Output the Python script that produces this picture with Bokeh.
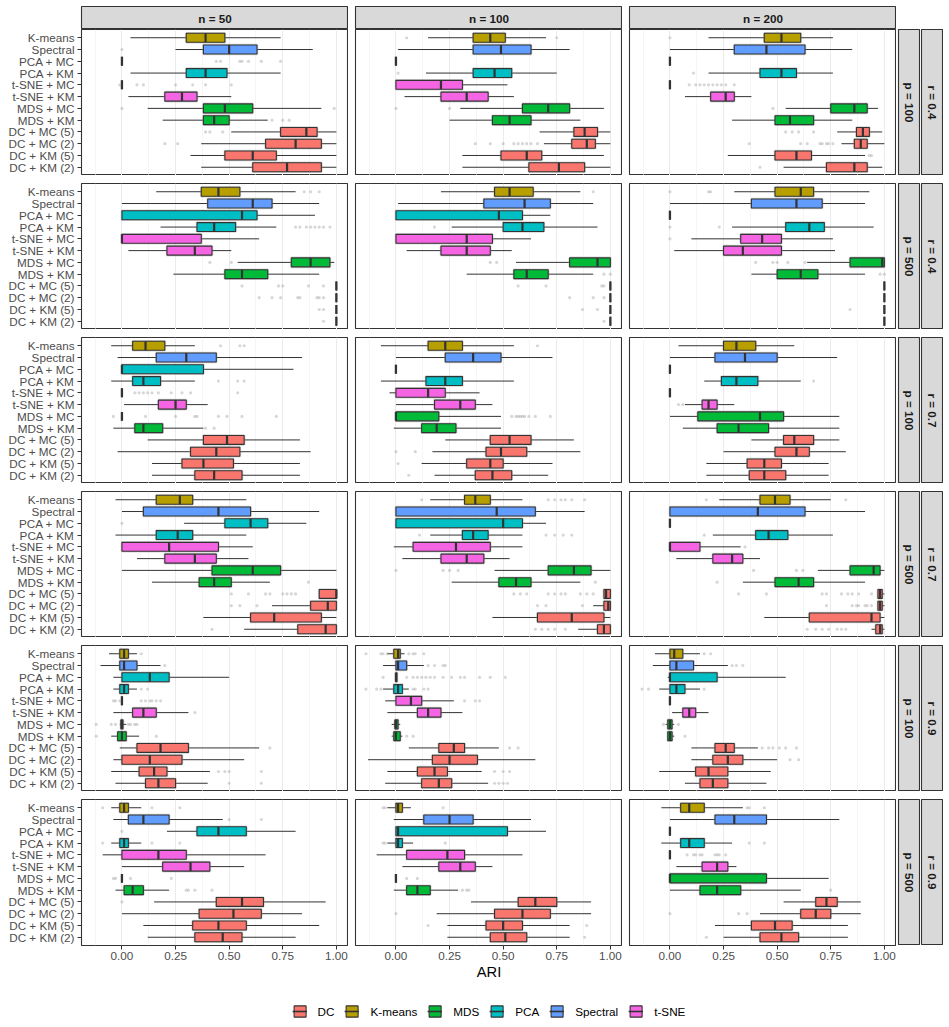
import math
from bokeh.plotting import figure
from bokeh.models import (FactorRange, Range1d, FixedTicker, Grid, ColumnDataSource,
                          Legend, LegendItem)
from bokeh.layouts import column, row
from bokeh.embed import file_html
from bokeh.resources import INLINE
from bokeh.core.properties import value

# ---------------- data ----------------
methods = ["K-means", "Spectral", "PCA + MC", "PCA + KM", "t-SNE + MC", "t-SNE + KM",
           "MDS + MC", "MDS + KM", "DC + MC (5)", "DC + MC (2)", "DC + KM (5)", "DC + KM (2)"]
method_group = ["K-means", "Spectral", "PCA", "PCA", "t-SNE", "t-SNE",
                "MDS", "MDS", "DC", "DC", "DC", "DC"]
group_names = ["DC", "K-means", "MDS", "PCA", "Spectral", "t-SNE"]
group_colors = ["#F8766D", "#B79F00", "#00BA38", "#00BFC4", "#619CFF", "#F564E3"]
n_labels = ["n = 50", "n = 100", "n = 200"]
p_labels = ["p = 100", "p = 500", "p = 100", "p = 500", "p = 100", "p = 500"]
r_labels = ["r = 0.4", "r = 0.4", "r = 0.7", "r = 0.7", "r = 0.9", "r = 0.9"]
x_ticks = [0.0, 0.25, 0.5, 0.75, 1.0]
x_tick_labels = ["0.00", "0.25", "0.50", "0.75", "1.00"]
x_minor = [-0.125, 0.125, 0.375, 0.625, 0.875]
axis_title = "ARI"

Z = [0, 0, 0, 0, 0]
ONE = [1, 1, 1, 1, 1]

# each row: [lower whisker, Q1, median, Q3, upper whisker], in method order
box_r04_p100_n50 = [[0.04, 0.30, 0.39, 0.48, 0.74], [0.25, 0.38, 0.50, 0.63, 0.89], Z,
                    [0.04, 0.30, 0.39, 0.49, 0.74], Z, [0.03, 0.20, 0.28, 0.35, 0.51],
                    [0.12, 0.38, 0.48, 0.61, 0.93], [0.19, 0.38, 0.43, 0.50, 0.68],
                    [0.51, 0.74, 0.86, 0.91, 1.00], [0.37, 0.67, 0.81, 0.93, 1.00],
                    [0.32, 0.48, 0.61, 0.72, 1.00], [0.37, 0.61, 0.77, 0.93, 1.00]]
out_r04_p100_n50 = [[], [0.0], [0.44, 0.46, 0.55, 0.56, 0.59, 0.65, 0.74], [],
                    [-0.01, 0.07, 0.10, 0.25, 0.33, 0.39, 0.51], [], [0.0, 0.99],
                    [0.70, 0.75, 0.78], [0.39, 0.41, 0.47], [0.20, 0.26], [], []]
box_r04_p100_n100 = [[0.15, 0.36, 0.44, 0.51, 0.70], [0.01, 0.36, 0.49, 0.63, 0.81], Z,
                     [0.14, 0.36, 0.46, 0.54, 0.75], [0, 0, 0.21, 0.31, 0.52],
                     [0.04, 0.21, 0.33, 0.43, 0.55], [0.30, 0.59, 0.71, 0.81, 0.97],
                     [0.25, 0.45, 0.53, 0.63, 0.86], [0.67, 0.83, 0.88, 0.94, 1.00],
                     [0.69, 0.82, 0.89, 0.93, 1.00], [0.31, 0.49, 0.61, 0.68, 0.97],
                     [0.31, 0.62, 0.76, 0.88, 1.00]]
out_r04_p100_n100 = [[0.05, 0.75], [], [], [0.01], [], [], [0.0, 0.25], [], [],
                     [0.37, 0.44, 0.50, 0.55, 0.57, 0.59, 0.61, 0.63, 0.66], [], []]
box_r04_p100_n200 = [[0.18, 0.44, 0.52, 0.61, 0.76], [0.0, 0.30, 0.45, 0.63, 0.85], Z,
                     [0.18, 0.42, 0.52, 0.59, 0.76], Z, [0.07, 0.19, 0.26, 0.30, 0.38],
                     [0.54, 0.75, 0.86, 0.92, 0.97], [0.29, 0.49, 0.56, 0.67, 0.85],
                     [0.78, 0.87, 0.90, 0.93, 0.99], [0.80, 0.86, 0.89, 0.92, 1.00],
                     [0.27, 0.49, 0.59, 0.66, 0.91], [0.53, 0.73, 0.86, 0.92, 0.99]]
out_r04_p100_n200 = [[0.0], [], [], [0.11],
                     [0.09, 0.12, 0.14, 0.16, 0.18, 0.20, 0.22, 0.24, 0.26, 0.30], [],
                     [0.48], [], [0.54, 0.57, 0.60, 0.67],
                     [0.37, 0.61, 0.64, 0.70, 0.71, 0.73, 0.74, 0.76], [0.93, 0.94], [0.42]]

box_r04_p500_n50 = [[0.16, 0.37, 0.45, 0.55, 0.81], [0.0, 0.40, 0.61, 0.70, 0.92],
                    [0, 0, 0.56, 0.63, 0.90], [0.18, 0.35, 0.43, 0.53, 0.72],
                    [0, 0, 0, 0.37, 0.64], [0.03, 0.21, 0.34, 0.42, 0.51],
                    [0.54, 0.79, 0.88, 0.97, 0.99], [0.24, 0.48, 0.56, 0.68, 0.92],
                    ONE, ONE, ONE, ONE]
out_r04_p500_n50 = [[0.85, 0.88, 0.92], [], [], [0.81, 0.83, 0.86, 0.88, 0.90, 0.92, 0.94, 0.97],
                    [], [], [0.41, 0.51], [], [0.56, 0.73, 0.75, 0.87, 0.94],
                    [0.64, 0.70, 0.74, 0.82, 0.83, 0.91, 0.92, 0.94], [0.92, 0.94], [0.94]]
box_r04_p500_n100 = [[0.21, 0.46, 0.53, 0.64, 0.86], [0.01, 0.41, 0.60, 0.72, 0.92],
                     [0, 0, 0.48, 0.59, 0.72], [0.26, 0.50, 0.59, 0.69, 0.94],
                     [0, 0, 0.33, 0.45, 0.63], [0.05, 0.21, 0.33, 0.44, 0.54],
                     [0.56, 0.81, 0.94, 1.00, 1.00], [0.33, 0.55, 0.61, 0.71, 0.92],
                     ONE, ONE, ONE, ONE]
out_r04_p500_n100 = [[0.92], [], [], [0.18], [], [], [0.44, 0.47], [0.97, 1.0],
                     [0.57, 0.70, 0.96, 0.97], [0.81, 0.92, 0.97], [0.87, 0.94], [0.97]]
box_r04_p500_n200 = [[0.30, 0.49, 0.61, 0.67, 0.93], [0.0, 0.38, 0.59, 0.71, 0.91], Z,
                     [0.29, 0.54, 0.65, 0.72, 0.95], [0.10, 0.33, 0.43, 0.52, 0.76],
                     [0.02, 0.25, 0.34, 0.52, 0.77], [0.64, 0.84, 0.99, 1.00, 1.00],
                     [0.38, 0.50, 0.61, 0.69, 0.91], ONE, ONE, ONE, ONE]
out_r04_p500_n200 = [[0.0, 0.18, 0.19], [], [], [0.0, 0.23], [0.0], [],
                     [0.40, 0.48, 0.50, 0.55, 0.63], [0.98, 1.0], [], [], [0.84], []]

box_r07_p100_n50 = [[-0.05, 0.05, 0.11, 0.20, 0.34], [-0.02, 0.16, 0.30, 0.44, 0.84],
                    [0, 0, 0, 0.38, 0.80], [-0.05, 0.05, 0.10, 0.18, 0.34], Z,
                    [0.01, 0.17, 0.25, 0.30, 0.40], Z, [-0.04, 0.06, 0.10, 0.19, 0.38],
                    [0.12, 0.38, 0.49, 0.57, 0.83], [-0.02, 0.32, 0.44, 0.55, 0.88],
                    [0.14, 0.28, 0.38, 0.52, 0.83], [0.14, 0.34, 0.43, 0.56, 0.83]]
out_r07_p100_n50 = [[0.46, 0.55, 0.57], [], [], [0.45, 0.54, 0.57],
                    [0.06, 0.08, 0.10, 0.12, 0.14, 0.17, 0.23, 0.28, 0.32, 0.54], [],
                    [-0.04, 0.11, 0.25, 0.34, 0.35, 0.45, 0.49, 0.56, 0.72], [0.39, 0.43],
                    [], [], [], []]
box_r07_p100_n100 = [[-0.07, 0.15, 0.23, 0.31, 0.55], [0.0, 0.23, 0.36, 0.49, 0.73], Z,
                     [-0.07, 0.14, 0.23, 0.31, 0.55], [-0.03, 0, 0.15, 0.23, 0.39],
                     [0.0, 0.18, 0.30, 0.37, 0.45], [0, 0, 0, 0.20, 0.49],
                     [-0.01, 0.12, 0.19, 0.28, 0.49], [0.23, 0.44, 0.53, 0.63, 0.83],
                     [0.17, 0.42, 0.49, 0.61, 0.86], [0.12, 0.33, 0.44, 0.50, 0.73],
                     [0.18, 0.37, 0.45, 0.54, 0.71]]
out_r07_p100_n100 = [[0.66], [], [], [], [], [],
                     [0.54, 0.56, 0.57, 0.58, 0.59, 0.60, 0.62, 0.65, 0.72], [], [],
                     [0.0, 0.09], [0.01], [0.06]]
box_r07_p100_n200 = [[0.04, 0.25, 0.31, 0.40, 0.58], [0.0, 0.21, 0.35, 0.50, 0.78], Z,
                     [0.16, 0.24, 0.31, 0.41, 0.61], Z, [0.07, 0.15, 0.18, 0.22, 0.30],
                     [0.0, 0.13, 0.42, 0.53, 0.79], [0.06, 0.22, 0.32, 0.46, 0.79],
                     [0.38, 0.53, 0.58, 0.67, 0.79], [0.25, 0.49, 0.59, 0.65, 0.82],
                     [0.17, 0.36, 0.44, 0.52, 0.74], [0.17, 0.37, 0.44, 0.54, 0.74]]
out_r07_p100_n200 = [[], [], [], [0.67], [], [0.04, 0.06], [], [], [], [], [], []]

box_r07_p500_n50 = [[-0.03, 0.16, 0.27, 0.33, 0.58], [0.0, 0.10, 0.45, 0.60, 0.92],
                    [0.29, 0.48, 0.60, 0.68, 0.86], [-0.03, 0.16, 0.26, 0.33, 0.58],
                    [0, 0, 0.22, 0.45, 0.61], [0.07, 0.20, 0.34, 0.44, 0.59],
                    [0.0, 0.42, 0.61, 0.74, 1.00], [0.14, 0.36, 0.43, 0.51, 0.69],
                    [0.92, 0.92, 1.00, 1.00, 1.00], [0.70, 0.88, 0.96, 1.00, 1.00],
                    [0.38, 0.60, 0.71, 0.93, 1.00], [0.57, 0.82, 0.95, 1.00, 1.00]]
out_r07_p500_n50 = [[], [], [0.0], [], [], [], [], [0.87],
                    [0.51, 0.59, 0.67, 0.69, 0.75, 0.77, 0.79, 0.81], [0.51, 0.55, 0.63],
                    [], [0.42]]
box_r07_p500_n100 = [[0.16, 0.32, 0.37, 0.44, 0.59], [0, 0, 0.47, 0.65, 0.88],
                     [0, 0, 0.50, 0.59, 0.70], [0.16, 0.31, 0.36, 0.43, 0.59],
                     [-0.01, 0.08, 0.28, 0.44, 0.59], [0.03, 0.21, 0.33, 0.41, 0.53],
                     [0.46, 0.71, 0.83, 0.91, 1.00], [0.26, 0.48, 0.56, 0.63, 0.86],
                     [0.97, 0.97, 0.98, 1.00, 1.00], [0.92, 0.97, 0.99, 1.00, 1.00],
                     [0.45, 0.66, 0.82, 0.97, 1.00], [0.85, 0.94, 0.97, 1.00, 1.00]]
out_r07_p500_n100 = [[0.12, 0.71, 0.74, 0.77, 0.79, 0.82, 0.88], [], [],
                     [0.11, 0.70, 0.74, 0.78, 0.82], [], [], [0.0, 0.22, 0.25, 0.29],
                     [0.93], [0.55, 0.58, 0.61, 0.71, 0.74, 0.77, 0.79, 0.86, 0.89, 0.92],
                     [0.66, 0.70, 0.87], [], [0.65, 0.68, 0.71, 0.74, 0.79]]
box_r07_p500_n200 = [[0.23, 0.42, 0.49, 0.56, 0.75], [0, 0, 0.41, 0.63, 0.91], Z,
                     [0.20, 0.40, 0.46, 0.55, 0.76], [0, 0, 0, 0.14, 0.33],
                     [0.03, 0.20, 0.29, 0.34, 0.42], [0.69, 0.84, 0.95, 0.98, 1.00],
                     [0.34, 0.49, 0.60, 0.67, 0.91], [0.97, 0.97, 0.98, 0.99, 1.00],
                     [0.97, 0.97, 0.98, 0.99, 1.00], [0.44, 0.65, 0.94, 0.98, 1.00],
                     [0.94, 0.96, 0.98, 0.99, 1.00]]
out_r07_p500_n200 = [[0.17, 0.82], [], [], [0.16], [0.35], [], [0.39, 0.59, 0.62], [0.22],
                     [0.32, 0.45, 0.71, 0.73, 0.80, 0.83, 0.85, 0.88, 0.94],
                     [0.73, 0.85, 0.87, 0.88, 0.91, 0.92, 0.94], [],
                     [0.64, 0.68, 0.71, 0.74, 0.78, 0.80, 0.82]]

box_r09_p100_n50 = [[-0.06, -0.01, 0.01, 0.03, 0.07], [-0.10, -0.01, 0.01, 0.07, 0.18],
                    [-0.04, 0.0, 0.13, 0.22, 0.50], [-0.04, -0.01, 0.01, 0.03, 0.07], Z,
                    [-0.04, 0.05, 0.10, 0.16, 0.31], [-0.01, -0.005, 0.0, 0.005, 0.02],
                    [-0.05, -0.02, 0.0, 0.02, 0.08], [-0.01, 0.07, 0.18, 0.31, 0.64],
                    [-0.04, 0.0, 0.13, 0.28, 0.57], [-0.05, 0.08, 0.15, 0.21, 0.41],
                    [-0.03, 0.11, 0.17, 0.25, 0.40]]
out_r09_p100_n50 = [[0.09], [0.20], [], [0.09, 0.12],
                    [-0.04, -0.03, -0.01, 0.09, 0.11, 0.13, 0.14, 0.16, 0.18], [0.34],
                    [-0.12, -0.05, -0.03, 0.03, 0.04, 0.06, 0.07], [-0.12, 0.16], [0.69], [],
                    [0.45, 0.48, 0.50, 0.65], [0.50, 0.65]]
box_r09_p100_n100 = [[-0.04, -0.01, 0.01, 0.02, 0.04], [-0.06, 0.0, 0.01, 0.05, 0.13],
                     [0, 0, 0, 0.005, 0.005], [-0.06, -0.01, 0.01, 0.03, 0.06],
                     [-0.05, 0.0, 0.07, 0.12, 0.27], [-0.04, 0.10, 0.15, 0.21, 0.31],
                     [-0.02, -0.005, 0.0, 0.01, 0.02], [-0.02, -0.01, 0.0, 0.02, 0.03],
                     [0.06, 0.20, 0.27, 0.32, 0.48], [-0.13, 0.17, 0.25, 0.38, 0.65],
                     [-0.04, 0.10, 0.18, 0.24, 0.40], [-0.05, 0.12, 0.20, 0.26, 0.43]]
out_r09_p100_n100 = [[-0.14, -0.07, -0.06, -0.04, 0.06, 0.08, 0.09, 0.13],
                     [0.15, 0.18, 0.22, 0.23],
                     [-0.06, 0.05, 0.08, 0.10, 0.12, 0.14, 0.16, 0.18, 0.22, 0.26, 0.30, 0.32,
                      0.39, 0.44, 0.51],
                     [-0.14, -0.09, -0.07, 0.08, 0.09, 0.13, 0.15], [0.32, 0.37, 0.39], [],
                     [], [0.05, 0.08], [0.53, 0.57], [], [0.46, 0.50, 0.53],
                     [0.46, 0.48, 0.50, 0.52]]
box_r09_p100_n200 = [[-0.07, 0.0, 0.02, 0.06, 0.14], [-0.08, 0.0, 0.03, 0.11, 0.27],
                     [-0.01, 0.0, 0.0, 0.22, 0.54], [-0.05, 0.0, 0.03, 0.07, 0.14], Z,
                     [0.01, 0.06, 0.09, 0.12, 0.18], [-0.02, -0.01, 0.0, 0.01, 0.02],
                     [-0.01, -0.01, 0.0, 0.01, 0.02], [0.10, 0.21, 0.26, 0.30, 0.41],
                     [0.10, 0.20, 0.27, 0.34, 0.50], [-0.05, 0.12, 0.18, 0.27, 0.47],
                     [0.07, 0.14, 0.20, 0.27, 0.45]]
out_r09_p100_n200 = [[0.16, 0.19], [0.29, 0.31, 0.34], [], [-0.13, -0.10, 0.16], [], [],
                     [-0.03, 0.04], [0.07], [0.43, 0.46, 0.48, 0.51, 0.54, 0.59],
                     [0.56, 0.60], [], []]

box_r09_p500_n50 = [[-0.05, -0.01, 0.01, 0.03, 0.09], [-0.04, 0.03, 0.10, 0.22, 0.47],
                    [0.21, 0.35, 0.45, 0.58, 0.81], [-0.05, -0.01, 0.01, 0.03, 0.09],
                    [-0.09, 0.0, 0.17, 0.30, 0.67], [0.0, 0.19, 0.32, 0.41, 0.57], Z,
                    [-0.03, 0.01, 0.05, 0.10, 0.22], [0.15, 0.44, 0.56, 0.66, 0.95],
                    [0.0, 0.36, 0.52, 0.65, 0.84], [0.10, 0.33, 0.45, 0.58, 0.92],
                    [0.12, 0.34, 0.47, 0.56, 0.81]]
out_r09_p500_n50 = [[-0.09, 0.14, 0.27], [0.50, 0.65], [0.0], [-0.09, 0.14, 0.27], [], [],
                    [-0.04, -0.03, 0.04, 0.23], [0.30, 0.31, 0.34, 0.42], [0.0], [], [], []]
box_r09_p500_n100 = [[-0.04, 0.0, 0.01, 0.03, 0.07], [-0.01, 0.13, 0.25, 0.36, 0.63],
                     [0, 0, 0.01, 0.52, 0.70], [-0.04, 0.0, 0.01, 0.03, 0.08],
                     [-0.09, 0.05, 0.24, 0.32, 0.59], [0.03, 0.20, 0.30, 0.37, 0.45], Z,
                     [-0.01, 0.05, 0.10, 0.16, 0.29], [0.35, 0.57, 0.65, 0.75, 0.91],
                     [0.19, 0.46, 0.59, 0.72, 0.91], [0.24, 0.42, 0.50, 0.59, 0.81],
                     [0.24, 0.44, 0.51, 0.61, 0.81]]
out_r09_p500_n100 = [[-0.06, -0.05, 0.22], [], [], [-0.06, -0.05, 0.23], [], [],
                     [0.05, 0.10], [0.31, 0.33, 0.34], [], [0.0], [0.15, 0.89], [0.88]]
box_r09_p500_n200 = [[-0.04, 0.05, 0.09, 0.16, 0.34], [0.0, 0.21, 0.30, 0.45, 0.79], Z,
                     [-0.04, 0.05, 0.09, 0.16, 0.29], Z, [0.03, 0.15, 0.22, 0.27, 0.31],
                     [0, 0, 0, 0.45, 0.74], [0.0, 0.14, 0.22, 0.33, 0.61],
                     [0.53, 0.68, 0.73, 0.78, 0.89], [0.42, 0.61, 0.68, 0.75, 0.89],
                     [0.21, 0.38, 0.49, 0.57, 0.83], [0.25, 0.42, 0.52, 0.60, 0.83]]
out_r09_p500_n200 = [[0.36, 0.37, 0.44], [], [], [0.37, 0.44],
                     [0.08, 0.11, 0.12, 0.14, 0.15, 0.21, 0.22, 0.23, 0.26], [], [], [0.75],
                     [], [0.0, 0.32, 0.36], [], [0.17]]

panel_boxes = [
    [box_r04_p100_n50, box_r04_p100_n100, box_r04_p100_n200],
    [box_r04_p500_n50, box_r04_p500_n100, box_r04_p500_n200],
    [box_r07_p100_n50, box_r07_p100_n100, box_r07_p100_n200],
    [box_r07_p500_n50, box_r07_p500_n100, box_r07_p500_n200],
    [box_r09_p100_n50, box_r09_p100_n100, box_r09_p100_n200],
    [box_r09_p500_n50, box_r09_p500_n100, box_r09_p500_n200],
]
panel_outs = [
    [out_r04_p100_n50, out_r04_p100_n100, out_r04_p100_n200],
    [out_r04_p500_n50, out_r04_p500_n100, out_r04_p500_n200],
    [out_r07_p100_n50, out_r07_p100_n100, out_r07_p100_n200],
    [out_r07_p500_n50, out_r07_p500_n100, out_r07_p500_n200],
    [out_r09_p100_n50, out_r09_p100_n100, out_r09_p100_n200],
    [out_r09_p500_n50, out_r09_p500_n100, out_r09_p500_n200],
]

# ---------------- styling ----------------
FONT = "Liberation Sans"
FW, FH = 267, 146
LEFT0 = 81
GAPX = 7
GAPY = 8
BOTTOM = 44
DARK = "#333333"
color_of = dict(zip(group_names, group_colors))


def make_panel(boxes, outs, col, rowi):
    last = rowi == 5
    p = figure(frame_width=FW, frame_height=FH,
               x_range=Range1d(-0.1886, 1.0566),
               y_range=FactorRange(factors=methods[::-1], range_padding=0.2,
                                   range_padding_units="absolute"),
               x_axis_location="below" if last else None,
               y_axis_location="left" if col == 0 else None,
               output_backend="svg", toolbar_location=None,
               min_border=0,
               min_border_left=LEFT0 if col == 0 else GAPX,
               min_border_top=0 if rowi == 0 else GAPY,
               min_border_bottom=BOTTOM if last else 0)
    p.outline_line_color = DARK
    p.outline_line_width = 1.1
    p.background_fill_color = "white"
    p.border_fill_color = "white"
    p.center = [r for r in p.center if not isinstance(r, Grid)]
    p.add_layout(Grid(dimension=0, ticker=FixedTicker(ticks=x_ticks, minor_ticks=x_minor),
                      grid_line_color="#EBEBEB", grid_line_width=1.0,
                      minor_grid_line_color="#EFEFEF", minor_grid_line_width=0.6))

    lo, q1, med, q3, hi = zip(*boxes)
    src = ColumnDataSource(dict(method=methods, lo=lo, q1=q1, med=med, q3=q3, hi=hi,
                                color=[color_of[g] for g in method_group]))
    p.segment(x0="lo", y0="method", x1="q1", y1="method", source=src,
              line_color=DARK, line_width=1.0)
    p.segment(x0="q3", y0="method", x1="hi", y1="method", source=src,
              line_color=DARK, line_width=1.0)
    # soft halo around the box outline, then the box itself
    p.hbar(y="method", left="q1", right="q3", height=0.76, source=src,
           fill_color=None, line_color="#8C8C8C", line_width=2.6, line_alpha=0.35)
    p.hbar(y="method", left="q1", right="q3", height=0.76, source=src,
           fill_color="color", line_color=DARK, line_width=1.1)
    p.rect(x="med", y="method", width=2.2, width_units="screen", height=0.76, source=src,
           fill_color=DARK, line_color=None)

    ox, oy = [], []
    for m, vals in zip(methods, outs):
        for v in vals:
            ox.append(v)
            oy.append(m)
    p.scatter(x=ox, y=oy, size=3.2, fill_color="#9A9A9A", line_color=None, alpha=0.4)

    if col == 0:
        ax = p.yaxis[0]
        ax.major_label_text_font = FONT
        ax.major_label_text_font_size = "11.7px"
        ax.major_label_text_color = "#4D4D4D"
        ax.major_tick_out = 4
        ax.major_tick_in = 0
        ax.major_tick_line_color = DARK
        ax.axis_line_color = None
        ax.major_label_standoff = 3
    if last:
        ax = p.xaxis[0]
        ax.ticker = FixedTicker(ticks=x_ticks)
        ax.major_label_overrides = dict(zip(x_ticks, x_tick_labels))
        ax.major_label_text_font = FONT
        ax.major_label_text_font_size = "11.7px"
        ax.major_label_text_color = "#4D4D4D"
        ax.major_tick_out = 4
        ax.major_tick_in = 0
        ax.major_tick_line_color = DARK
        ax.minor_tick_line_color = None
        ax.axis_line_color = None
        ax.major_label_standoff = 2
        if col == 1:
            ax.axis_label = axis_title
            ax.axis_label_text_font = FONT
            ax.axis_label_text_font_size = "14.7px"
            ax.axis_label_text_font_style = "normal"
            ax.axis_label_text_color = "black"
            ax.axis_label_standoff = 1
    return p


def make_strip(label, w, h, angle, top, left):
    s = figure(frame_width=w, frame_height=h, x_range=Range1d(0, 1), y_range=Range1d(0, 1),
               x_axis_location=None, y_axis_location=None,
               output_backend="svg", toolbar_location=None,
               min_border=0, min_border_top=top, min_border_left=left)
    s.center = [r for r in s.center if not isinstance(r, Grid)]
    s.background_fill_color = "#D9D9D9"
    s.border_fill_color = "white"
    s.outline_line_color = DARK
    s.outline_line_width = 1.1
    s.text(x=[0.5], y=[0.5], text=[label], angle=angle, text_align="center",
           text_baseline="middle", text_font=value(FONT), text_font_style="bold",
           text_font_size="11.7px", text_color="#1A1A1A")
    return s


rows = []
rows.append(row(*[make_strip(n_labels[j], FW, 23, 0, 6, LEFT0 if j == 0 else GAPX)
                  for j in range(3)]))
for i in range(6):
    figs = [make_panel(panel_boxes[i][j], panel_outs[i][j], j, i) for j in range(3)]
    top = 0 if i == 0 else GAPY
    figs.append(make_strip(p_labels[i], 22, FH, -math.pi / 2, top, 2))
    figs.append(make_strip(r_labels[i], 22, FH, -math.pi / 2, top, 1))
    rows.append(row(*figs))

# legend (key renderers carry no visible data; they only provide the key glyphs)
NaN = float("nan")
lg = figure(frame_width=3 * FW + 2 * GAPX, frame_height=32,
            x_range=Range1d(0, 1), y_range=Range1d(0, 1),
            x_axis_location=None, y_axis_location=None,
            output_backend="svg", toolbar_location=None,
            min_border=0, min_border_left=LEFT0, min_border_top=6)
lg.center = [r for r in lg.center if not isinstance(r, Grid)]
lg.outline_line_color = None
items = []
for g, c in zip(group_names, group_colors):
    key_src = ColumnDataSource(dict(y=[NaN], left=[NaN], right=[NaN]))
    rb = lg.hbar(y="y", left="left", right="right", height=0.5, source=key_src,
                 fill_color=c, line_color=DARK, line_width=1.1)
    rm = lg.segment(x0="left", y0="y", x1="right", y1="y", source=key_src,
                    line_color=DARK, line_width=1.6)
    items.append(LegendItem(label=g, renderers=[rb, rm]))
legend = Legend(items=items, orientation="horizontal", location="center",
                glyph_width=15, glyph_height=14, label_standoff=11, spacing=10,
                label_width=10, padding=0, margin=0,
                border_line_color=None, background_fill_alpha=0,
                label_text_font=FONT, label_text_font_size="11.7px",
                label_text_color="black")
lg.add_layout(legend)
rows.append(lg)

layout = column(*rows)
open("out.html", "w").write(file_html(layout, INLINE, title="ARI boxplots"))
